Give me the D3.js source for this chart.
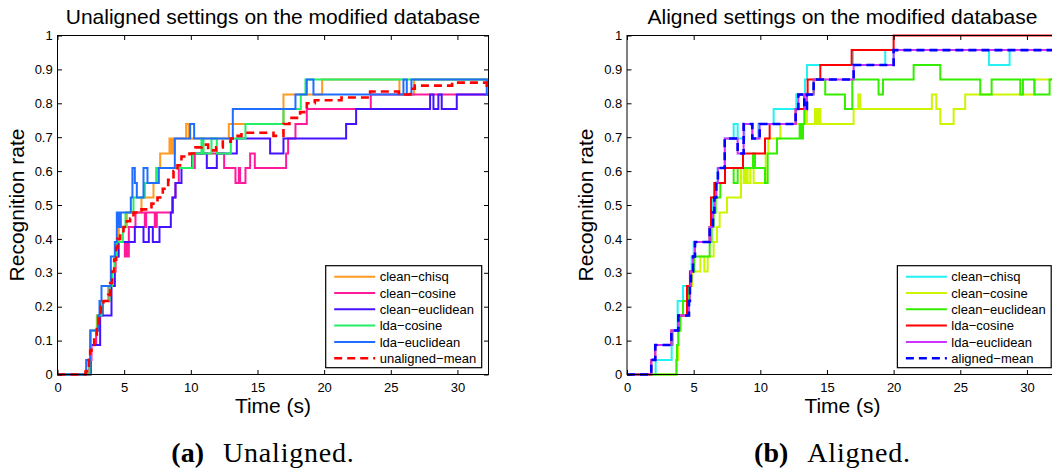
<!DOCTYPE html>
<html>
<head>
<meta charset="utf-8">
<script src="https://cdn.jsdelivr.net/npm/d3@7"></script>
<style>
  body { margin: 0; background: #fff; }
  svg { display: block; }
</style>
</head>
<body>
<svg id="fig" width="1052" height="472"></svg>
<script>
// ---- Tick values --------------------------------------------------------
const xTicks = [0, 5, 10, 15, 20, 25, 30];
const yTicks = [0, 0.1, 0.2, 0.3, 0.4, 0.5, 0.6, 0.7, 0.8, 0.9, 1];
const timeMax = 32.33;

// ---- Series names -------------------------------------------------------
const unalignedNames = ["clean\u2212chisq", "clean\u2212cosine", "clean\u2212euclidean",
                        "lda\u2212cosine", "lda\u2212euclidean", "unaligned\u2212mean"];
const alignedNames = ["clean\u2212chisq", "clean\u2212cosine", "clean\u2212euclidean",
                      "lda\u2212cosine", "lda\u2212euclidean", "aligned\u2212mean"];

// ---- Unaligned settings: [time (s), recognition rate] step points --------
const uCleanChisq = [[0,0],[2.35,0.043],[2.5,0.13],[2.95,0.174],[3.2,0.217],[3.8,0.261],[4.1,0.304],
  [4.35,0.391],[4.6,0.435],[5.2,0.478],[6.3,0.522],[7.2,0.565],[7.4,0.609],[7.7,0.652],[8.4,0.696],
  [8.5,0.652],[8.6,0.696],[8.7,0.652],[8.8,0.696],[9.65,0.739],[9.85,0.696],[12.85,0.739],
  [16.95,0.826],[19.85,0.87],[25.65,0.826],[26.75,0.87]];
const uCleanCosine = [[0,0],[2.4,0.043],[2.55,0.087],[2.9,0.13],[3.1,0.174],[3.4,0.217],[3.9,0.261],
  [4.05,0.304],[4.35,0.348],[4.6,0.391],[5.05,0.348],[5.2,0.391],[5.25,0.348],[5.35,0.435],
  [5.85,0.478],[6.55,0.435],[6.65,0.478],[7.3,0.435],[7.45,0.478],[8.6,0.522],[8.85,0.565],
  [9.1,0.609],[10.3,0.652],[12.5,0.609],[13.35,0.565],[13.6,0.609],[13.7,0.565],[14.1,0.609],
  [14.45,0.652],[14.8,0.609],[17.15,0.652],[17.3,0.696],[17.85,0.739],[18.7,0.783],[23.5,0.826]];
const uCleanEuclidean = [[0,0],[2.5,0.087],[3.2,0.217],[3.35,0.174],[4.05,0.261],[4.3,0.348],
  [4.55,0.391],[5.8,0.435],[6.45,0.391],[6.85,0.435],[7.15,0.391],[7.65,0.435],[8.5,0.478],
  [8.65,0.522],[8.85,0.565],[9.3,0.609],[10.1,0.652],[11.2,0.609],[11.95,0.652],[13.45,0.696],
  [15.95,0.652],[16.95,0.696],[21.65,0.739],[22.4,0.783],[27.95,0.826],[28.2,0.783],
  [28.57,0.826],[28.82,0.783],[29.95,0.826]];
const uLdaCosine = [[0,0],[2.4,0.043],[2.5,0.13],[3.0,0.174],[3.3,0.217],[3.9,0.261],[4.1,0.304],
  [4.3,0.348],[4.45,0.391],[4.9,0.435],[5.1,0.478],[5.7,0.522],[6.55,0.565],[7.45,0.609],
  [10.15,0.652],[10.8,0.696],[10.95,0.652],[11.55,0.696],[11.95,0.652],[13.0,0.696],
  [14.1,0.739],[16.95,0.783],[18.25,0.826],[18.6,0.87]];
const uLdaEuclidean = [[0,0],[2.15,0.043],[2.45,0.13],[3.05,0.174],[3.15,0.217],[3.3,0.261],
  [4.0,0.348],[4.3,0.391],[4.45,0.478],[4.6,0.435],[4.75,0.478],[5.5,0.522],[5.62,0.609],
  [5.8,0.565],[5.95,0.522],[6.45,0.609],[6.75,0.565],[7.6,0.609],[8.8,0.696],[9.95,0.739],
  [10.25,0.696],[13.15,0.783],[17.85,0.826],[18.7,0.87],[19.2,0.826],[25.95,0.87],[26.2,0.826],
  [26.55,0.87],[32.2,0.826]];
const uMean = [[0,0],[2.1,0.009],[2.2,0.026],[2.35,0.043],[2.45,0.07],[2.55,0.087],[2.75,0.113],
  [2.95,0.139],[3.1,0.165],[3.25,0.2],[3.45,0.217],[3.8,0.235],[3.95,0.27],[4.1,0.304],
  [4.25,0.339],[4.4,0.374],[4.5,0.4],[4.7,0.417],[4.95,0.435],[5.2,0.452],[5.45,0.46],
  [5.7,0.478],[6.3,0.487],[7.05,0.504],[7.5,0.522],[7.9,0.548],[8.3,0.574],[8.7,0.6],
  [9.0,0.617],[9.3,0.643],[9.9,0.652],[10.35,0.67],[10.8,0.678],[11.3,0.661],[11.9,0.67],
  [12.4,0.687],[13.0,0.696],[13.4,0.704],[13.8,0.713],[16.2,0.704],[16.95,0.739],[17.4,0.757],
  [18.2,0.774],[18.7,0.8],[19.3,0.809],[21.3,0.817],[23.45,0.835],[25.6,0.826],[26.45,0.843],
  [26.8,0.852],[29.6,0.861],[32.2,0.852]];

// ---- Aligned settings ---------------------------------------------------
const aCleanChisq = [[0,0],[2.15,0.043],[3.35,0.087],[3.45,0.13],[3.8,0.217],[4.2,0.261],
  [4.75,0.304],[4.85,0.348],[5.0,0.391],[6.2,0.435],[6.4,0.522],[6.6,0.565],[6.8,0.609],
  [7.35,0.696],[8.0,0.739],[8.3,0.696],[8.8,0.739],[9.4,0.696],[9.85,0.739],[11.0,0.783],
  [12.7,0.826],[13.35,0.87],[13.5,0.913],[16.95,0.957],[19.37,0.913],[20.0,0.957],
  [27.15,0.913],[28.7,0.957]];
const aCleanCosine = [[0,0],[3.75,0.043],[3.85,0.13],[4.0,0.174],[4.2,0.217],[4.55,0.261],
  [4.9,0.304],[5.5,0.348],[5.8,0.304],[6.05,0.348],[6.5,0.391],[6.75,0.435],[6.95,0.478],
  [7.5,0.522],[8.55,0.609],[8.75,0.565],[8.9,0.609],[9.05,0.565],[9.25,0.609],[9.5,0.565],
  [10.4,0.652],[10.6,0.696],[11.5,0.739],[13.4,0.783],[13.5,0.739],[14.1,0.783],[14.25,0.739],
  [14.35,0.783],[14.5,0.739],[17.0,0.783],[17.35,0.826],[17.5,0.783],[22.87,0.826],
  [23.2,0.783],[23.5,0.739],[24.5,0.783],[25.37,0.826],[30.6,0.87]];
const aCleanEuclidean = [[0,0],[3.7,0.043],[3.75,0.087],[3.85,0.13],[4.0,0.174],[4.2,0.217],
  [4.6,0.261],[4.75,0.304],[5.05,0.348],[6.2,0.391],[6.35,0.435],[6.5,0.478],[6.65,0.522],
  [7.0,0.565],[7.35,0.609],[8.0,0.565],[8.3,0.609],[9.45,0.652],[9.6,0.609],[10.35,0.565],
  [10.55,0.652],[11.25,0.696],[12.95,0.739],[13.1,0.696],[13.2,0.739],[13.3,0.783],
  [13.5,0.826],[14.0,0.87],[14.87,0.826],[16.35,0.783],[16.9,0.87],[18.87,0.826],[19.2,0.87],
  [21.5,0.913],[23.5,0.87],[26.5,0.826],[27.35,0.87],[29.5,0.826],[29.7,0.87],[30.55,0.826],
  [31.7,0.87]];
const aLdaCosine = [[0,0],[1.82,0.043],[2.12,0.087],[3.33,0.13],[3.85,0.174],[4.5,0.261],
  [4.72,0.304],[4.95,0.348],[5.1,0.391],[6.2,0.435],[6.3,0.522],[6.55,0.565],[7.35,0.609],
  [8.7,0.652],[10.35,0.696],[10.7,0.739],[12.65,0.783],[13.3,0.826],[13.55,0.87],[14.5,0.913],
  [16.85,0.957],[20.0,1.0]];
const aLdaEuclidean = [[0,0],[1.82,0.043],[2.12,0.087],[3.33,0.13],[3.85,0.174],[4.65,0.217],
  [4.72,0.261],[4.8,0.304],[4.95,0.348],[5.1,0.391],[6.2,0.435],[6.45,0.478],[6.55,0.522],
  [6.7,0.565],[6.82,0.609],[7.33,0.696],[8.3,0.652],[8.75,0.739],[9.4,0.696],[9.95,0.739],
  [12.65,0.783],[12.85,0.826],[13.3,0.783],[13.5,0.826],[14.0,0.87],[17.0,0.913],[20.0,0.957]];
const aMean = [[0,0],[1.82,0.043],[2.12,0.087],[3.33,0.13],[3.85,0.174],[4.65,0.217],
  [4.72,0.261],[4.8,0.304],[4.95,0.348],[5.1,0.391],[6.2,0.435],[6.45,0.478],[6.55,0.522],
  [6.7,0.565],[6.82,0.609],[7.33,0.696],[8.3,0.652],[8.75,0.739],[9.4,0.696],[9.95,0.739],
  [12.65,0.783],[12.85,0.826],[13.3,0.783],[13.5,0.826],[14.0,0.87],[17.0,0.913],[20.0,0.957]];

// ---- Styling --------------------------------------------------------------
const unalignedColors = ["#ff9a22", "#ff1a9c", "#4412ff", "#22ee66", "#1f6eff", "#ff0000"];
const alignedColors   = ["#22f2f2", "#ccf500", "#33ee00", "#ff0000", "#cc33ff", "#0000ff"];
const sansFont = "'Liberation Sans', Arial, Helvetica, sans-serif";
const serifFont = "'Liberation Serif', 'Times New Roman', serif";

const panels = [
  {
    id: "unaligned", left: 57.5,
    title: "Unaligned settings on the modified database",
    tag: "(a)", caption: "Unaligned.",
    names: unalignedNames, colors: unalignedColors,
    data: [uCleanChisq, uCleanCosine, uCleanEuclidean, uLdaCosine, uLdaEuclidean, uMean]
  },
  {
    id: "aligned", left: 627,
    title: "Aligned settings on the modified database",
    tag: "(b)", caption: "Aligned.",
    names: alignedNames, colors: alignedColors,
    data: [aCleanChisq, aCleanCosine, aCleanEuclidean, aLdaCosine, aLdaEuclidean, aMean]
  }
];

const svg = d3.select("#fig");
const axisW = 431, axisTop = 35.5, axisBottom = 374.5;
const tickLen = 4.5;

function drawPanel(p) {
  const x = d3.scaleLinear().domain([0, timeMax]).range([p.left, p.left + axisW]);
  const y = d3.scaleLinear().domain([0, 1]).range([axisBottom, axisTop]);
  const g = svg.append("g");
  const cx = p.left + axisW / 2;

  // plotting area clip (slightly padded so lines on the frame stay visible)
  svg.append("clipPath").attr("id", "clip-" + p.id)
    .append("rect")
    .attr("x", p.left - 1.5).attr("y", axisTop - 1.5)
    .attr("width", axisW + 3).attr("height", axisBottom - axisTop + 3);

  const line = d3.line()
    .x(d => x(d[0])).y(d => y(d[1]))
    .curve(d3.curveStepAfter);

  const lines = g.append("g").attr("clip-path", `url(#clip-${p.id})`);
  p.data.forEach((series, i) => {
    const dashed = i === p.data.length - 1;
    const pts = series.concat([[timeMax, series[series.length - 1][1]]]);
    lines.append("path")
      .attr("d", line(pts))
      .attr("fill", "none")
      .attr("stroke", p.colors[i])
      .attr("stroke-width", dashed ? 2.6 : 2)
      .attr("stroke-linejoin", "miter")
      .attr("stroke-dasharray", dashed ? "8,5" : null);
  });

  // axes with inward ticks on all four sides
  const styleAxis = sel => {
    sel.select(".domain").remove();
    sel.attr("font-family", sansFont).attr("font-size", 13).attr("color", "#000");
    sel.selectAll(".tick line").attr("stroke-width", 1);
  };
  g.append("g").attr("transform", `translate(0,${axisBottom})`)
    .call(d3.axisBottom(x).tickValues(xTicks).tickSizeInner(-tickLen).tickSizeOuter(0)
      .tickPadding(8.5).tickFormat(d3.format("d")))
    .call(styleAxis);
  g.append("g").attr("transform", `translate(0,${axisTop})`)
    .call(d3.axisTop(x).tickValues(xTicks).tickSizeInner(-tickLen).tickSizeOuter(0).tickFormat(""))
    .call(styleAxis);
  g.append("g").attr("transform", `translate(${p.left},0)`)
    .call(d3.axisLeft(y).tickValues(yTicks).tickSizeInner(-tickLen).tickSizeOuter(0)
      .tickPadding(4.8).tickFormat(d3.format("~g")))
    .call(styleAxis);
  g.append("g").attr("transform", `translate(${p.left + axisW},0)`)
    .call(d3.axisRight(y).tickValues(yTicks).tickSizeInner(-tickLen).tickSizeOuter(0).tickFormat(""))
    .call(styleAxis);

  g.append("rect")
    .attr("x", p.left).attr("y", axisTop)
    .attr("width", axisW).attr("height", axisBottom - axisTop)
    .attr("fill", "none").attr("stroke", "#000").attr("stroke-width", 1);

  // title and axis labels
  g.append("text").attr("x", cx).attr("y", 23.5)
    .attr("text-anchor", "middle").attr("font-family", sansFont).attr("font-size", 21)
    .text(p.title);
  g.append("text").attr("x", cx).attr("y", 413)
    .attr("text-anchor", "middle").attr("font-family", sansFont).attr("font-size", 21)
    .text("Time (s)");
  g.append("text")
    .attr("transform", `translate(${p.left - 34},${(axisTop + axisBottom) / 2}) rotate(-90)`)
    .attr("text-anchor", "middle").attr("font-family", sansFont).attr("font-size", 21)
    .text("Recognition rate");

  // legend, bottom-right inside the axes
  const leg = g.append("g");
  const box = leg.append("rect").attr("fill", "#fff").attr("stroke", "#000").attr("stroke-width", 1.2);
  const rowH = 16.3;
  let maxW = 0;
  const entries = p.names.map((name, i) => {
    const e = leg.append("g");
    const dashed = i === p.names.length - 1;
    e.append("line").attr("class", "sample")
      .attr("stroke", p.colors[i]).attr("stroke-width", dashed ? 2.6 : 2)
      .attr("stroke-dasharray", dashed ? "8,5" : null);
    const t = e.append("text").attr("font-family", sansFont).attr("font-size", 13).text(name);
    maxW = Math.max(maxW, t.node().getComputedTextLength());
    return e;
  });
  const boxW = 54 + maxW + 5.5;
  const boxH = 102;
  const boxRight = p.left + axisW - 6.8;
  const boxBottom = axisBottom - 6.8;
  const bx = boxRight - boxW, by = boxBottom - boxH;
  box.attr("x", bx).attr("y", by).attr("width", boxW).attr("height", boxH);
  entries.forEach((e, i) => {
    const ry = by + 11 + i * rowH;
    e.select("line").attr("x1", bx + 8.5).attr("x2", bx + 49.5).attr("y1", ry).attr("y2", ry);
    e.select("text").attr("x", bx + 54).attr("y", ry + 4.6);
  });

  // sub-figure caption
  const cap = g.append("g").attr("font-family", serifFont).attr("font-size", 28);
  const tag = cap.append("text").attr("font-weight", "bold").attr("y", 461.5).text(p.tag);
  const rest = cap.append("text").attr("y", 461.5).attr("letter-spacing", 0.8).text(p.caption);
  const tw = tag.node().getComputedTextLength();
  const rw = rest.node().getComputedTextLength();
  const gap = 19;
  const start = cx - 10 - (tw + gap + rw) / 2;
  tag.attr("x", start);
  rest.attr("x", start + tw + gap);
}

panels.forEach(drawPanel);
</script>
</body>
</html>
